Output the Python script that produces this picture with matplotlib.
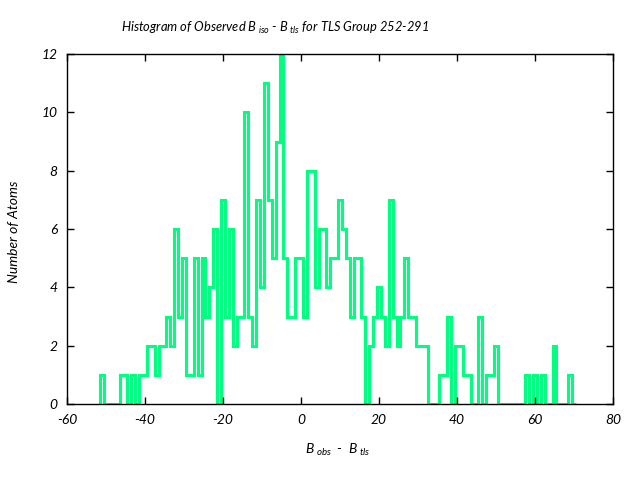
import matplotlib
matplotlib.use("Agg")
import matplotlib.pyplot as plt
import numpy as np

# histogram bins (centre of each 1-unit bin) and atom counts
bin_centers = np.arange(-51, 71)
counts = [
    1, 0, 0, 0, 0, 1, 1, 0, 1, 0,          # -51 .. -42
    1, 1, 2, 2, 1, 2, 2, 3, 2, 6,          # -41 .. -32
    3, 5, 1, 1, 5, 1, 5, 3, 4, 6,          # -31 .. -22
    0, 7, 3, 6, 2, 3, 3, 10, 3, 2,         # -21 .. -12
    7, 4, 11, 7, 5, 9, 12, 5, 3, 3,        # -11 .. -2
    5, 5, 3, 8, 8, 4, 6, 6, 4, 5,          # -1 .. 8
    5, 7, 6, 5, 3, 5, 5, 3, 0, 2,          # 9 .. 18
    3, 4, 3, 2, 7, 3, 2, 3, 5, 3,          # 19 .. 28
    3, 2, 2, 2, 0, 0, 0, 1, 1, 3,          # 29 .. 38
    0, 2, 2, 1, 1, 0, 0, 3, 0, 1,          # 39 .. 48
    1, 2, 0, 0, 0, 0, 0, 0, 0, 1,          # 49 .. 58
    0, 1, 0, 1, 0, 0, 2, 0, 0, 0,          # 59 .. 68
    1, 0,                                  # 69 .. 70
]

x_ticks = [-60, -40, -20, 0, 20, 40, 60, 80]
y_ticks = [0, 2, 4, 6, 8, 10, 12]

plt.rcParams["font.family"] = ["Lato", "DejaVu Sans"]
plt.rcParams["axes.unicode_minus"] = False
plt.rcParams["mathtext.fontset"] = "custom"
plt.rcParams["mathtext.it"] = "Lato:italic"
plt.rcParams["mathtext.rm"] = "Lato:italic"

fig = plt.figure(figsize=(6.4, 4.8), dpi=100)
ax = fig.add_axes([67 / 640, 76 / 480, 546 / 640, 350 / 480])

edges = np.append(bin_centers - 0.5, bin_centers[-1] + 0.5)
ax.stairs(counts, edges, color="#00FF80", lw=2.2, baseline=0)

ax.set_xlim(-60, 80)
ax.set_ylim(0, 12)
ax.set_xticks(x_ticks)
ax.set_yticks(y_ticks)
ax.tick_params(direction="in", top=True, right=True, length=5, width=1,
               labelsize=10, pad=7)
for lab in ax.get_xticklabels() + ax.get_yticklabels():
    lab.set_style("italic")
for sp in ax.spines.values():
    sp.set_linewidth(1)

fig.text(275 / 640, 1 - 28 / 480,
         r"Histogram of Observed B$_{\ iso}$ - B$_{\ tls}$ for TLS Group 252-291",
         ha="center", va="center", fontsize=9.3, style="italic")
fig.text(338 / 640, 1 - 450 / 480, r"B$_{\ obs}$  -  B$_{\ tls}$",
         ha="center", va="center", fontsize=10, style="italic")
fig.text(14 / 640, 1 - 232 / 480, "Number of Atoms", rotation=90,
         ha="center", va="center", fontsize=10, style="italic")

fig.savefig("out.png", dpi=100)
